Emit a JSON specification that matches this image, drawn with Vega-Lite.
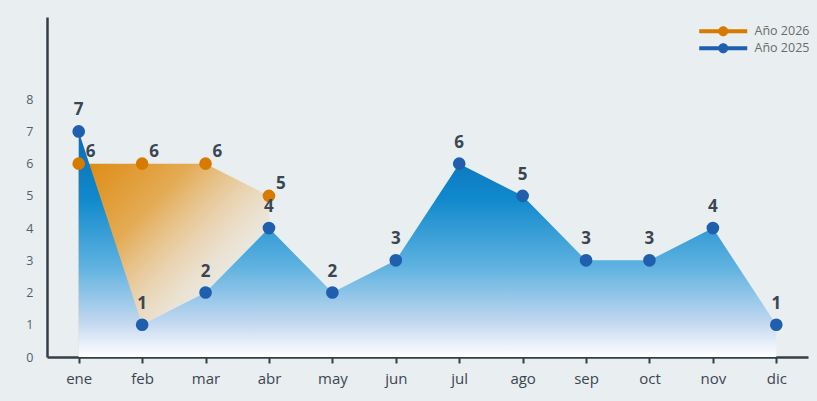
{
  "$schema": "https://vega.github.io/schema/vega-lite/v6.json",
  "autosize": "none",
  "width": 761,
  "height": 340,
  "padding": {"left": 47, "top": 17, "right": 9, "bottom": 44},
  "background": "#e9eef0",
  "config": {
    "view": {"stroke": null},
    "font": "Open Sans",
    "axis": {"grid": false, "labelFont": "Open Sans", "titleFont": "Open Sans"}
  },
  "data": {
    "values": [
      {"mes": "ene", "serie": "Año 2025", "valor": 7},
      {"mes": "feb", "serie": "Año 2025", "valor": 1},
      {"mes": "mar", "serie": "Año 2025", "valor": 2},
      {"mes": "abr", "serie": "Año 2025", "valor": 4},
      {"mes": "may", "serie": "Año 2025", "valor": 2},
      {"mes": "jun", "serie": "Año 2025", "valor": 3},
      {"mes": "jul", "serie": "Año 2025", "valor": 6},
      {"mes": "ago", "serie": "Año 2025", "valor": 5},
      {"mes": "sep", "serie": "Año 2025", "valor": 3},
      {"mes": "oct", "serie": "Año 2025", "valor": 3},
      {"mes": "nov", "serie": "Año 2025", "valor": 4},
      {"mes": "dic", "serie": "Año 2025", "valor": 1},
      {"mes": "ene", "serie": "Año 2026", "valor": 6},
      {"mes": "feb", "serie": "Año 2026", "valor": 6},
      {"mes": "mar", "serie": "Año 2026", "valor": 6},
      {"mes": "abr", "serie": "Año 2026", "valor": 5}
    ]
  },
  "encoding": {
    "x": {
      "field": "mes",
      "type": "nominal",
      "sort": ["ene","feb","mar","abr","may","jun","jul","ago","sep","oct","nov","dic"],
      "scale": {"type": "point", "padding": 0.5},
      "axis": {
        "title": null,
        "labelAngle": 0,
        "domainColor": "#333f48",
        "domainWidth": 2.5,
        "tickColor": "#333f48",
        "tickWidth": 2,
        "tickSize": 6,
        "labelColor": "#3b4650",
        "labelFontSize": 15,
        "labelPadding": 8
      }
    },
    "y": {
      "field": "valor",
      "type": "quantitative",
      "scale": {"domain": [0, 10.55], "nice": false},
      "axis": {
        "title": null,
        "values": [0,1,2,3,4,5,6,7,8],
        "ticks": false,
        "domainColor": "#333f48",
        "domainWidth": 2.5,
        "labelColor": "#555f68",
        "labelFontSize": 12.5,
        "labelPadding": 14
      }
    }
  },
  "layer": [
    {
      "transform": [{"filter": "datum.serie === 'Año 2026'"}],
      "mark": {
        "type": "area",
        "color": {
          "gradient": "linear",
          "x1": 0, "y1": 0, "x2": 1, "y2": 1,
          "stops": [
            {"offset": 0, "color": "#dd8a0e"},
            {"offset": 0.3, "color": "#e4ab55"},
            {"offset": 0.6, "color": "rgba(236,216,186,0.6)"},
            {"offset": 0.85, "color": "rgba(233,238,240,0)"},
            {"offset": 1, "color": "rgba(233,238,240,0)"}
          ]
        }
      }
    },
    {
      "transform": [{"filter": "datum.serie === 'Año 2025'"}],
      "mark": {
        "type": "area",
        "color": {
          "gradient": "linear",
          "x1": 0, "y1": 0, "x2": 0, "y2": 1,
          "stops": [
            {"offset": 0, "color": "#0b6cb6"},
            {"offset": 0.3, "color": "#1189cc"},
            {"offset": 0.6, "color": "#5fb2e0"},
            {"offset": 0.85, "color": "#c4d8f0"},
            {"offset": 1, "color": "#ffffff"}
          ]
        }
      }
    },
    {
      "mark": {"type": "point", "filled": true, "size": 160, "opacity": 1},
      "encoding": {
        "color": {
          "field": "serie",
          "type": "nominal",
          "scale": {"domain": ["Año 2026", "Año 2025"], "range": ["#d67a00", "#1f5fae"]},
          "legend": {
            "title": null,
            "orient": "none",
            "legendX": 694,
            "legendY": 8,
            "padding": 0,
            "symbolType": "M-9.6,-0.4 L0,-0.4 L0,0.4 L-9.6,0.4 Z M-5.8,0 A1,1 0 1,1 -3.8,0 A1,1 0 1,1 -5.8,0 Z",
            "symbolSize": 100,
            "symbolStrokeWidth": 0,
            "symbolOpacity": 1,
            "labelOffset": 1,
            "labelFontSize": 12.5,
            "labelColor": "#6b6b6b",
            "labelFont": "Open Sans",
            "rowPadding": 4
          }
        }
      }
    },
    {
      "transform": [{"filter": "datum.serie === 'Año 2025'"}],
      "mark": {"type": "text", "dy": -21, "fontSize": 17, "fontWeight": "bold", "color": "#3a4652"},
      "encoding": {"text": {"field": "valor", "type": "quantitative"}}
    },
    {
      "transform": [{"filter": "datum.serie === 'Año 2026'"}],
      "mark": {"type": "text", "dx": 7, "dy": -12, "align": "left", "fontSize": 17, "fontWeight": "bold", "color": "#3a4652"},
      "encoding": {"text": {"field": "valor", "type": "quantitative"}}
    }
  ]
}
